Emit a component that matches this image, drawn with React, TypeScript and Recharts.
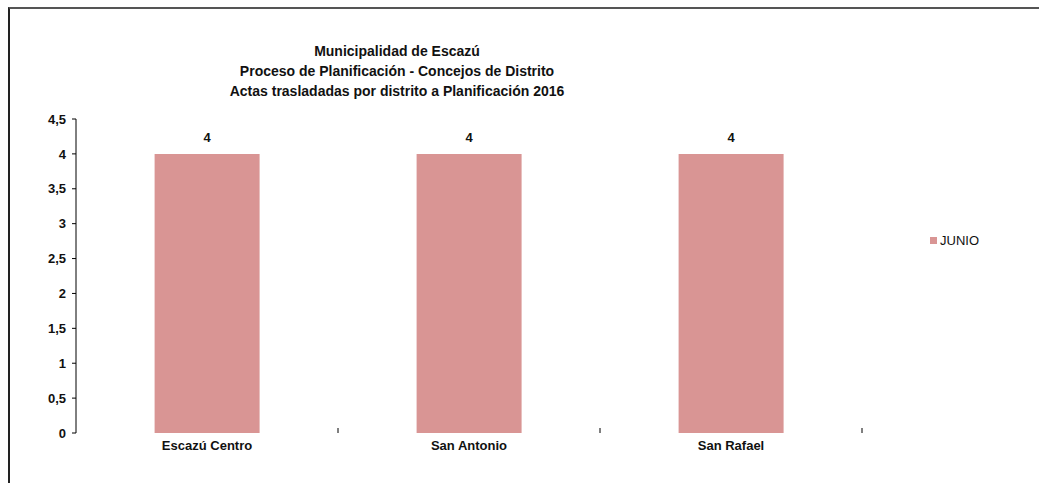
import { BarChart, Bar, XAxis, YAxis, LabelList } from "recharts";

const districts = ["Escazú Centro", "San Antonio", "San Rafael"];
const junio = [4, 4, 4];
const yTicks = [0, 0.5, 1, 1.5, 2, 2.5, 3, 3.5, 4, 4.5];
const boundaryTicks = [1, 2, 3];
const seriesName = "JUNIO";
const titleLines = [
  "Municipalidad de Escazú",
  "Proceso de Planificación - Concejos de Distrito",
  "Actas trasladadas por distrito a Planificación  2016",
];

const FONT = "'Liberation Sans Narrow', 'Arial Narrow', 'Liberation Sans', Arial, sans-serif";
const BAR = "#d99594";

const data = districts.map((name, i) => ({ name, idx: i + 0.5, value: junio[i] }));

export default function App() {
  return (
    <div style={{ position: "absolute", left: 0, top: 0, width: 1039, height: 483, background: "#fff" }}>
      {/* frame of the original sheet */}
      <div
        style={{
          position: "absolute",
          left: 8,
          top: 7,
          width: 1040,
          height: 490,
          borderTop: "2px solid #555",
          borderLeft: "2px solid #222",
        }}
      />
      <div
        style={{
          position: "absolute",
          left: 197,
          width: 400,
          top: 41,
          textAlign: "center",
          fontFamily: FONT,
          fontWeight: "bold",
          fontSize: 14,
          lineHeight: "20px",
          color: "#111",
        }}
      >
        {titleLines.map((t) => (
          <div key={t}>{t}</div>
        ))}
      </div>
      {/* legend */}
      <div
        style={{
          position: "absolute",
          left: 930,
          top: 233,
          display: "flex",
          alignItems: "center",
          fontFamily: FONT,
          fontSize: 13,
          color: "#111",
        }}
      >
        <span style={{ width: 7, height: 7, background: BAR, marginRight: 3, display: "inline-block" }} />
        {seriesName}
      </div>
      <BarChart
        width={1039}
        height={483}
        data={data}
        margin={{ top: 119, right: 177, bottom: 49, left: 0 }}
        barCategoryGap="30%"
        style={{ position: "absolute", left: 0, top: 0, overflow: "visible" }}
      >
        <XAxis
          dataKey="name"
          height={1}
          axisLine={false}
          tickLine={false}
          tick={{ fontFamily: FONT, fontWeight: "bold", fontSize: 13, fill: "#111" }}
        />
        {/* small marks between the districts */}
        <XAxis
          xAxisId="bounds"
          type="number"
          dataKey="idx"
          height={1}
          domain={[0, 3]}
          allowDataOverflow
          ticks={boundaryTicks}
          interval={0}
          axisLine={false}
          mirror
          tickSize={5}
          tickMargin={0}
          tickFormatter={() => ""}
          tickLine={{ stroke: "#000", strokeWidth: 1 }}
        />
        <YAxis
          width={76}
          domain={[0, 4.5]}
          ticks={yTicks}
          interval={0}
          tickSize={4}
          tickMargin={6}
          axisLine={{ stroke: "#000" }}
          tickLine={{ stroke: "#000" }}
          tickFormatter={(v: number) => String(v).replace(".", ",")}
          tick={{ fontFamily: FONT, fontWeight: "bold", fontSize: 13, fill: "#111" }}
        />
        <Bar dataKey="value" name={seriesName} fill={BAR} isAnimationActive={false}>
          <LabelList
            dataKey="value"
            position="top"
            offset={12}
            style={{ fontFamily: FONT, fontWeight: "bold", fontSize: 13, fill: "#111" }}
          />
        </Bar>
      </BarChart>
    </div>
  );
}
